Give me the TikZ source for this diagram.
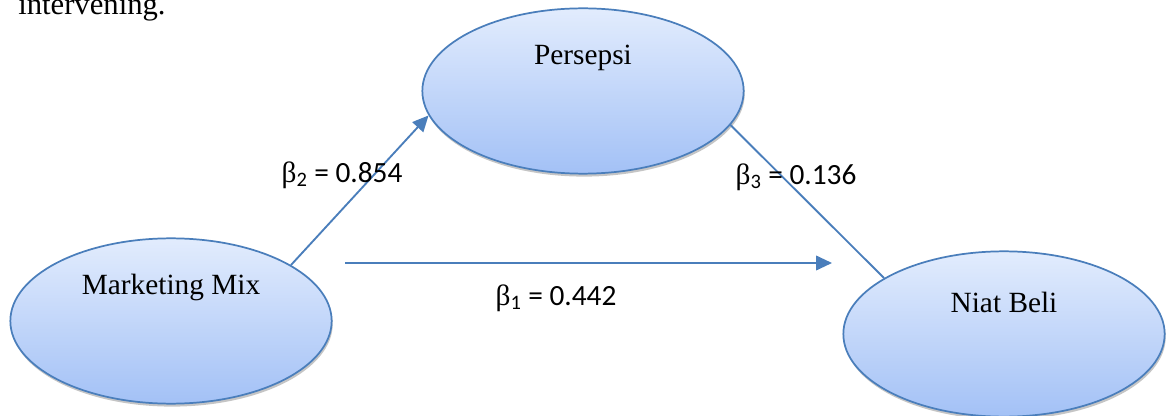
\documentclass[tikz,border=0pt]{standalone}
\usepackage{fontspec}
\newfontfamily\coeffont{Carlito}
\newfontfamily\greekfont{Liberation Serif}
\newfontfamily\ovalfont{Liberation Serif}
\usetikzlibrary{shapes.geometric, arrows.meta, shadows}

\definecolor{ovalline}{HTML}{4A7EBB}
\definecolor{ovaltop}{HTML}{E2ECFD}
\definecolor{ovalbottom}{HTML}{A3C1F6}
\definecolor{pathline}{HTML}{4A7EBB}

\begin{document}
\begin{tikzpicture}[
    x=0.75pt, y=-0.75pt,
    construct/.style={ellipse, draw=ovalline, line width=1.3pt, top color=ovaltop, bottom color=ovalbottom, minimum width=241pt, minimum height=124pt, drop shadow={shadow xshift=0.8pt, shadow yshift=-2.2pt, fill=black!45, opacity=0.5}},
    ovaltext/.style={font=\ovalfont\fontsize{22}{26}\selectfont},
    coef/.style={font=\coeffont\fontsize{22}{26}\selectfont, inner sep=0pt},
    arrow/.style={line width=1.4pt, draw=pathline, -{Triangle[length=12pt, width=11pt]}},
    link/.style={line width=1.4pt, draw=pathline}
]
\useasboundingbox (0,0) rectangle (1166,416);

% Caption fragment
\node[ovaltext, font=\ovalfont\fontsize{23}{27}\selectfont, anchor=base west, inner sep=0pt] (caption) at (18,15) {intervening.};

% Constructs
\node[construct, label={[ovaltext, yshift=25pt]center:Persepsi}] (persepsi) at (583,91) {};
\node[construct, label={[ovaltext, yshift=25pt]center:Marketing Mix}] (mix) at (171,321) {};
\node[construct, label={[ovaltext, yshift=24pt]center:Niat Beli}] (niat) at (1004,334) {};

% Direct path ends
\coordinate (directstart) at (345,263);
\coordinate (directend) at (832,263);

% Paths
\draw[arrow] (mix.25) -- (persepsi.189);
\draw[link] (persepsi.-13) -- (niat.155);
\draw[arrow] (directstart) -- (directend);

% Coefficients
\node[coef] (b2) at (342,175) {{\greekfont β}\textsubscript{2} = 0.854};
\node[coef] (b3) at (796,177) {{\greekfont β}\textsubscript{3} = 0.136};
\node[coef] (b1) at (556,298) {{\greekfont β}\textsubscript{1} = 0.442};

\end{tikzpicture}
\end{document}
